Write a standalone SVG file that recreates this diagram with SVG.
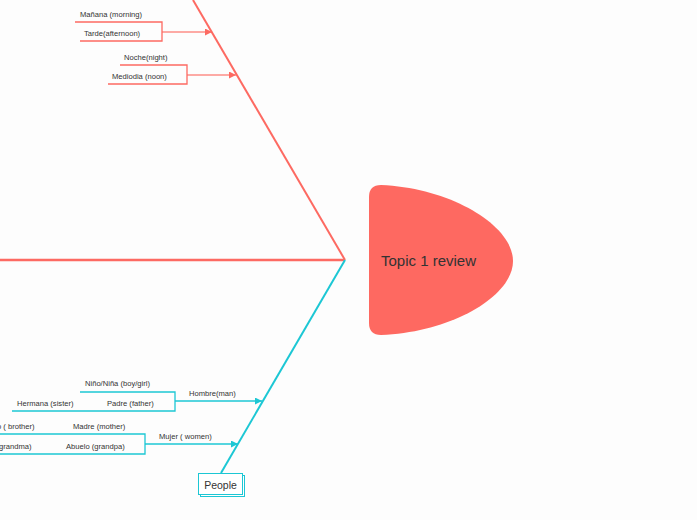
<svg xmlns="http://www.w3.org/2000/svg" width="697" height="520" viewBox="0 0 697 520">
<defs>
<style>
.lbl{font-family:"Liberation Sans",Arial,sans-serif;font-size:7.6px;fill:#333}
.red{stroke:#fd6a62;fill:none;stroke-width:1.3}
.cy{stroke:#1cc7d4;fill:none;stroke-width:1.3}
</style>
<marker id="ar" viewBox="0 0 10 10" refX="10" refY="5" markerWidth="7" markerHeight="7" orient="auto" markerUnits="userSpaceOnUse"><path d="M0,0 L10,5 L0,10 Z" fill="#fd6a62"/></marker>
<marker id="ac" viewBox="0 0 10 10" refX="10" refY="5" markerWidth="7" markerHeight="7" orient="auto" markerUnits="userSpaceOnUse"><path d="M0,0 L10,5 L0,10 Z" fill="#1cc7d4"/></marker>
</defs>
<rect width="697" height="520" fill="#fdfdfd"/>
<g id="connectors">
<line x1="0" y1="260" x2="345" y2="260" stroke="#fd6a62" stroke-width="2.4"/>
<line x1="193" y1="0" x2="345" y2="260" stroke="#fd6a62" stroke-width="2"/>
<line x1="221" y1="473" x2="345" y2="260" stroke="#1cc7d4" stroke-width="2"/>
<line x1="162" y1="32" x2="212" y2="32" class="red" stroke-opacity="0.75" marker-end="url(#ar)"/>
<line x1="187" y1="75" x2="236" y2="75" class="red" stroke-opacity="0.75" marker-end="url(#ar)"/>
<line x1="175" y1="401" x2="262" y2="401" class="cy" marker-end="url(#ac)"/>
<line x1="145" y1="444" x2="238" y2="444" class="cy" marker-end="url(#ac)"/>
</g>
<g id="head">
<path d="M381,185 C452,188 513,226 513,261 C513,296 452,332 381,335 Q369,335 369,323 L369,197 Q369,185 381,185 Z" fill="#fe6961"/>
<text x="381" y="266" font-family="'Liberation Sans',Arial,sans-serif" font-size="15" fill="#333">Topic 1 review</text>
</g>
<g id="time1">
<path class="red" d="M75,22 H162 V41 H80"/>
<text class="lbl" x="80" y="17">Mañana (morning)</text>
<text class="lbl" x="84" y="36">Tarde(afternoon)</text>
</g>
<g id="time2">
<path class="red" d="M120,65 H187 V84 H108"/>
<text class="lbl" x="124" y="60">Noche(night)</text>
<text class="lbl" x="112" y="79">Mediodia (noon)</text>
</g>
<g id="hombre">
<path class="cy" d="M80,392 H175 V411 H12"/>
<text class="lbl" x="85" y="386">Niño/Niña (boy/girl)</text>
<text class="lbl" x="17" y="406">Hermana (sister)</text>
<text class="lbl" x="107" y="406">Padre (father)</text>
<text class="lbl" x="189" y="396">Hombre(man)</text>
</g>
<g id="mujer">
<path class="cy" d="M0,434 H145 V454 H0"/>
<text class="lbl" x="-3" y="429">o ( brother)</text>
<text class="lbl" x="73" y="429">Madre (mother)</text>
<text class="lbl" x="-1" y="449">grandma)</text>
<text class="lbl" x="66" y="449">Abuelo (grandpa)</text>
<text class="lbl" x="159" y="439">Mujer ( women)</text>
</g>
<g id="people">
<rect x="200.5" y="475.5" width="44" height="21" fill="#fff" stroke="#1cc7d4" stroke-width="1"/>
<rect x="198.5" y="473.5" width="44" height="21" fill="#fff" stroke="#1cc7d4" stroke-width="1"/>
<text x="220.5" y="488.5" text-anchor="middle" font-family="'Liberation Sans',Arial,sans-serif" font-size="10.5" fill="#333">People</text>
</g>
</svg>
